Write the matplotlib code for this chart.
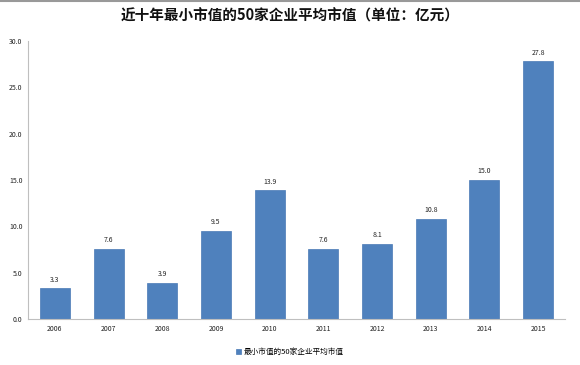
import matplotlib.pyplot as plt
import numpy as np

plt.rcParams['font.family'] = ['Noto Sans CJK SC', 'DejaVu Sans']

years = ['2006', '2007', '2008', '2009', '2010', '2011', '2012', '2013', '2014', '2015']
values = [3.3, 7.6, 3.9, 9.5, 13.9, 7.6, 8.1, 10.8, 15.0, 27.8]
title = '近十年最小市值的50家企业平均市值（单位：亿元）'
series_name = '最小市值的50家企业平均市值'

fig = plt.figure(figsize=(5.8, 3.65), dpi=100)
ax = fig.add_axes([28 / 580, 1 - 319 / 365, (565 - 28) / 580, (319 - 41) / 365])

x = np.arange(len(years))
bars = ax.bar(x, values, width=0.56, color='#4f81bd', edgecolor='#4a7ab5', linewidth=0.5,
              label=series_name, zorder=2)
for xi, v in zip(x, values):
    ax.text(xi, v + 0.5, f'{v:.1f}', ha='center', va='bottom', fontsize=5, color='#222222')

ax.set_xlim(-0.5, len(years) - 0.5)
ax.set_ylim(0, 30)
ax.set_yticks(np.arange(0, 30.1, 5))
ax.set_yticklabels([f'{t:.1f}' for t in np.arange(0, 30.1, 5)])
ax.set_xticks(x)
ax.set_xticklabels(years)
ax.tick_params(axis='both', labelsize=5, length=0, pad=4, colors='#222222')
for s in ['top', 'right']:
    ax.spines[s].set_visible(False)
ax.spines['left'].set_color('#bfbfbf')
ax.spines['bottom'].set_color('#bfbfbf')

fig.text(0.5, 1 - 16 / 365, title, ha='center', va='center', fontsize=10.5,
         fontweight='bold', color='#111111')
fig.legend(handles=[bars], labels=[series_name], loc='center', bbox_to_anchor=(0.5, 1 - 352 / 365),
           frameon=False, fontsize=5.5, handlelength=0.6, handleheight=0.6, handletextpad=0.4)
fig.add_artist(plt.Line2D([0, 1], [0.997, 0.997], color='#999999', linewidth=1.5,
                          transform=fig.transFigure))

fig.savefig('out.png', dpi=100)
